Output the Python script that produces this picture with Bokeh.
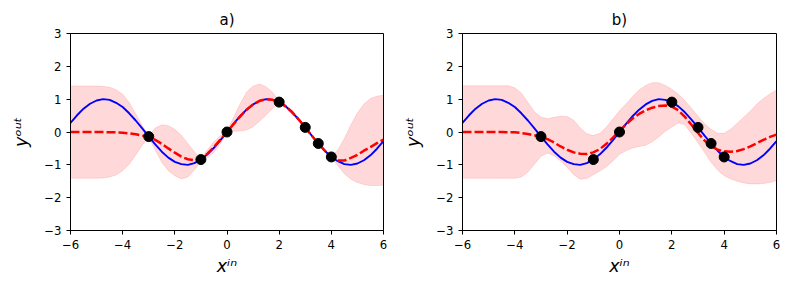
from bokeh.plotting import figure
from bokeh.layouts import row
from bokeh.models import FixedTicker, ColumnDataSource
from bokeh.embed import file_html
from bokeh.resources import INLINE

# ---------------- data ----------------
x_grid = [-6.0, -5.75, -5.5, -5.25, -5.0, -4.75, -4.5, -4.25, -4.0, -3.75, -3.5, -3.25,
          -3.0, -2.75, -2.5, -2.25, -2.0, -1.75, -1.5, -1.25, -1.0, -0.75, -0.5, -0.25,
          0.0, 0.25, 0.5, 0.75, 1.0, 1.25, 1.5, 1.75, 2.0, 2.25, 2.5, 2.75,
          3.0, 3.25, 3.5, 3.75, 4.0, 4.25, 4.5, 4.75, 5.0, 5.25, 5.5, 5.75, 6.0]

true_curve = [0.28, 0.51, 0.71, 0.86, 0.96, 1.00, 0.98, 0.89, 0.76, 0.57, 0.35, 0.11,
              -0.14, -0.38, -0.60, -0.78, -0.91, -0.98, -1.00, -0.95, -0.84, -0.68, -0.48, -0.25,
              0.00, 0.25, 0.48, 0.68, 0.84, 0.95, 1.00, 0.98, 0.91, 0.78, 0.60, 0.38,
              0.14, -0.11, -0.35, -0.57, -0.76, -0.89, -0.98, -1.00, -0.96, -0.86, -0.71, -0.51, -0.28]

obs_x = [-3.0, -1.0, 0.0, 2.0, 3.0, 3.5, 4.0]
obs_y = [-0.14, -0.84, 0.00, 0.91, 0.14, -0.35, -0.76]

# panel a)
mean_a = [0.00, 0.00, 0.00, 0.00, 0.00, 0.00, -0.01, -0.01, -0.02, -0.04, -0.07, -0.11,
          -0.14, -0.24, -0.36, -0.50, -0.63, -0.75, -0.83, -0.86, -0.84, -0.66, -0.46, -0.23,
          0.00, 0.24, 0.47, 0.68, 0.84, 0.95, 1.00, 0.98, 0.91, 0.78, 0.60, 0.38,
          0.14, -0.11, -0.35, -0.57, -0.76, -0.87, -0.87, -0.79, -0.70, -0.57, -0.46, -0.34, -0.23]
low_a = [-1.41, -1.41, -1.41, -1.41, -1.41, -1.40, -1.37, -1.31, -1.18, -0.98, -0.70, -0.40,
         -0.16, -0.55, -0.92, -1.18, -1.33, -1.43, -1.37, -1.16, -0.86, -0.78, -0.62, -0.35,
         -0.02, 0.02, 0.03, 0.06, 0.16, 0.33, 0.52, 0.72, 0.89, 0.73, 0.54, 0.33,
         0.12, -0.14, -0.37, -0.60, -0.78, -1.02, -1.27, -1.44, -1.54, -1.60, -1.63, -1.63, -1.62]
high_a = [1.40, 1.40, 1.40, 1.40, 1.40, 1.39, 1.36, 1.29, 1.15, 0.90, 0.55, 0.20,
          -0.12, 0.12, 0.22, 0.19, 0.08, -0.10, -0.35, -0.60, -0.82, -0.54, -0.30, -0.11,
          0.02, 0.44, 0.85, 1.21, 1.40, 1.46, 1.38, 1.20, 0.93, 0.83, 0.66, 0.43,
          0.16, -0.08, -0.33, -0.54, -0.74, -0.55, -0.20, 0.22, 0.58, 0.85, 1.02, 1.09, 1.12]

# panel b)
mean_b = [0.00, 0.00, 0.00, 0.00, 0.00, 0.00, 0.00, -0.01, -0.01, -0.03, -0.06, -0.10,
          -0.15, -0.22, -0.32, -0.44, -0.54, -0.62, -0.66, -0.67, -0.62, -0.52, -0.36, -0.17,
          0.03, 0.23, 0.41, 0.55, 0.66, 0.74, 0.79, 0.81, 0.77, 0.66, 0.46, 0.22,
          -0.03, -0.26, -0.43, -0.54, -0.59, -0.60, -0.58, -0.52, -0.44, -0.34, -0.24, -0.15, -0.08]
low_b = [-1.41, -1.41, -1.41, -1.41, -1.41, -1.41, -1.41, -1.41, -1.41, -1.37, -1.22, -0.98,
         -0.74, -0.64, -0.72, -0.88, -1.07, -1.30, -1.44, -1.42, -1.30, -1.19, -1.06, -0.88,
         -0.68, -0.57, -0.49, -0.44, -0.40, -0.30, -0.15, 0.02, 0.15, 0.28, 0.22, -0.05,
         -0.32, -0.62, -0.92, -1.16, -1.33, -1.43, -1.50, -1.55, -1.58, -1.58, -1.57, -1.54, -1.48]
high_b = [1.41, 1.41, 1.41, 1.41, 1.41, 1.41, 1.41, 1.41, 1.35, 1.18, 0.90, 0.62,
          0.46, 0.40, 0.45, 0.48, 0.47, 0.36, 0.12, -0.05, -0.11, -0.04, 0.15, 0.40,
          0.65, 0.85, 1.08, 1.28, 1.42, 1.50, 1.50, 1.42, 1.30, 1.15, 0.95, 0.72,
          0.48, 0.25, 0.08, -0.04, -0.04, 0.08, 0.27, 0.45, 0.64, 0.85, 1.02, 1.16, 1.28]

x_ticks = [-6, -4, -2, 0, 2, 4, 6]
x_tick_labels = ["\u22126", "\u22124", "\u22122", "0", "2", "4", "6"]
y_ticks = [-3, -2, -1, 0, 1, 2, 3]
y_tick_labels = ["\u22123", "\u22122", "\u22121", "0", "1", "2", "3"]
titles = ["a)", "b)"]
x_label = "x\u2071\u207f"
y_label = "y\u1d52\u1d58\u1d57"

FONT = "DejaVu Sans"


def make_panel(title, mean, low, high, border_left, border_right, frame_w):
    p = figure(x_range=(-6, 6), y_range=(-3, 3),
               frame_width=frame_w, frame_height=197,
               min_border_left=border_left, min_border_right=border_right,
               min_border_top=33, min_border_bottom=49,
               output_backend="svg", toolbar_location=None,
               background_fill_color="white", border_fill_color="white")
    p.title.text = title
    p.title.align = "center"
    p.title.text_font = FONT
    p.title.text_font_size = "15px"
    p.title.text_font_style = "normal"
    p.title.text_color = "black"
    p.title.standoff = 9

    p.grid.visible = False
    p.outline_line_color = "black"
    p.outline_line_alpha = 1.0
    p.outline_line_width = 1

    p.xaxis.ticker = FixedTicker(ticks=x_ticks)
    p.yaxis.ticker = FixedTicker(ticks=y_ticks)
    p.xaxis.major_label_overrides = dict(zip(x_ticks, x_tick_labels))
    p.yaxis.major_label_overrides = dict(zip(y_ticks, y_tick_labels))
    p.xaxis.axis_label = x_label
    p.yaxis.axis_label = y_label
    for ax in (p.xaxis[0], p.yaxis[0]):
        ax.axis_line_color = "black"
        ax.major_tick_line_color = "black"
        ax.major_tick_out = 4
        ax.major_tick_in = 0
        ax.minor_tick_line_color = None
        ax.major_label_text_font = FONT
        ax.major_label_text_font_size = "11.7px"
        ax.major_label_text_color = "black"
        ax.axis_label_text_font = FONT
        ax.axis_label_text_font_size = "17.5px"
        ax.axis_label_text_font_style = "italic"
        ax.axis_label_text_color = "black"
    p.xaxis.axis_label_standoff = 4
    p.yaxis.axis_label_standoff = 10

    src = ColumnDataSource(dict(x=x_grid, true=true_curve, mean=mean, low=low, high=high))
    p.varea(x="x", y1="low", y2="high", source=src, fill_color="red", fill_alpha=0.15)
    p.line(x="x", y="low", source=src, line_color="red", line_alpha=0.12, line_width=1)
    p.line(x="x", y="high", source=src, line_color="red", line_alpha=0.12, line_width=1)
    p.line(x="x", y="true", source=src, line_color="blue", line_width=1.9)
    p.line(x="x", y="mean", source=src, line_color="red", line_width=2.5, line_dash="9 3")
    p.scatter(x=obs_x, y=obs_y, size=10, fill_color="black", line_color="black")
    return p


pa = make_panel(titles[0], mean_a, low_a, high_a, 70, 15, 313)
pb = make_panel(titles[1], mean_b, low_b, high_b, 64, 4, 314)
layout = row(pa, pb)

open("out.html", "w").write(file_html(layout, INLINE))
